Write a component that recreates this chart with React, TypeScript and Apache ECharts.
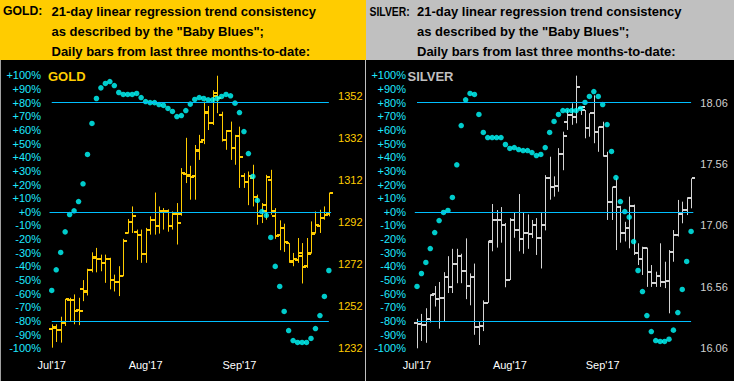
import React, { useEffect, useRef } from "react";
import * as echarts from "echarts";

const monthLabels = ["Jul'17", "Aug'17", "Sep'17"];
const monthStartIdx = [0, 21, 42];
const barCount = 63;
const categories = Array.from({ length: barCount }, (_, i) => "d" + (i + 1));

const pctTicks = { min: -100, max: 100, interval: 10 };
const goldPriceAxis = { min: 1232, max: 1361.7, interval: 20 };
const silverPriceAxis = { min: 16.06, max: 18.283, interval: 0.5 };

const goldOpen = [1241,1241.5,1240.5,1244,1255,1255,1250,1260.3,1259,1269,1275,1274.6,1272.6,1274.5,1264.4,1263.4,1266.2,1287,1292,1287.4,1286,1277,1288.4,1293,1290.3,1297,1297,1290.3,1296,1296,1315,1314,1314,1326,1331,1344,1339,1352,1343,1331,1335,1327,1333,1314,1311,1313,1303.8,1295,1297,1312,1295,1286,1289,1282,1273,1274,1276,1271,1277,1287,1290,1294,1296];
const goldHigh = [1243.4,1243.4,1247,1255.5,1256,1257.6,1256,1264.4,1269.8,1277.6,1279.7,1276.5,1276.5,1275,1267,1271,1284,1293.4,1299.4,1288.4,1288.4,1289.2,1294.7,1306,1299.4,1298.6,1298,1297,1301,1317.6,1332,1318.7,1328.6,1333.4,1349.2,1347.1,1354.6,1361.5,1344.4,1335.7,1339.7,1333.4,1337.3,1315.2,1316,1319.2,1305,1301,1314.4,1316.8,1298.6,1292.8,1291.2,1282,1277.3,1284.4,1282,1284.4,1292.3,1297,1297.8,1299.4,1306];
const goldLow = [1232.3,1235,1234.7,1242.6,1245,1243.4,1243,1254.4,1257.1,1268.1,1268.1,1268.6,1263.1,1260,1259,1256.8,1266.2,1286.5,1286.8,1274,1272.6,1272.6,1286,1286,1286.5,1288.4,1287.4,1288.4,1281.3,1295,1310.5,1302.6,1302.6,1321.5,1329,1335.7,1338.1,1343.7,1330.2,1326.3,1321.5,1319.2,1308.2,1308.2,1300,1299.4,1290.7,1291.5,1293.1,1295.5,1284,1278.6,1277.8,1272.6,1271,1272.6,1262.8,1270.2,1277,1286.5,1286.8,1293.1,1294.7];
const goldClose = [1242,1240.5,1243.8,1255.2,1255,1249.7,1249.7,1258.7,1269,1275.2,1274.6,1272.6,1274.5,1264.4,1263.4,1266.2,1282.8,1291.8,1295,1286,1276.9,1288.4,1293.1,1290.3,1297,1297,1290.3,1296,1291.5,1315.2,1314.1,1313.6,1325.9,1330.2,1344.4,1338.9,1353.4,1350.8,1331,1335.4,1327,1332.9,1323.1,1310.8,1314,1304.1,1294.7,1300.2,1313.6,1297,1285.5,1289.2,1282.4,1273.4,1274.2,1277.3,1270.7,1277.3,1286.5,1290.7,1293.9,1295.5,1306];
const goldTrend = [-57.6,-42.5,-29.8,-14.7,-2,0.7,7.5,20.5,42,64.7,83,90.8,94,95.4,92.5,87.4,86,86,86,86.7,83.7,80.8,80,80,78.6,77.9,75.7,73.5,69.8,70.5,74.2,78.9,82.3,83.7,83,82,82,83,84.5,86,85,79.6,72.7,58.8,42.7,25.9,8.3,0.2,-2.7,-18.8,-40,-54.7,-73,-87,-94.3,-95.7,-95.7,-95.7,-92.8,-85.5,-76,-62,-43];

const silverOpen = [16.27,16.26,16.25,16.30,16.50,16.46,16.47,16.64,16.56,16.744,16.81,16.69,16.57,16.64,16.236,16.24,16.43,16.93,17.105,17.105,17.064,16.616,17.105,17.02,16.95,17.0,16.99,17.06,16.96,17.064,17.445,17.37,17.38,17.64,17.9,17.96,17.946,18.02,18.0,17.85,17.974,17.824,17.86,17.626,17.254,17.37,17.213,17.0,17.04,17.22,16.838,16.785,16.88,16.684,16.594,16.65,16.60,16.61,16.847,16.983,17.15,17.19,17.28];
const silverHigh = [16.30,16.34,16.386,16.50,16.567,16.60,16.68,16.81,16.87,16.87,16.83,16.955,16.67,16.75,16.28,16.45,16.936,17.235,17.186,17.21,17.08,17.12,17.164,17.316,17.17,17.15,17.105,17.12,17.17,17.47,17.62,17.46,17.69,17.824,18.0,18.055,18.28,18.027,18.0,17.974,18.12,17.865,17.905,17.66,17.376,17.444,17.22,17.09,17.295,17.23,16.915,16.887,16.88,16.738,16.684,16.915,16.765,16.86,17.023,17.268,17.254,17.29,17.444];
const silverLow = [16.06,16.12,16.105,16.27,16.40,16.22,16.28,16.51,16.51,16.59,16.59,16.46,16.41,16.17,16.087,16.20,16.43,16.85,16.88,16.92,16.557,16.616,16.96,16.85,16.83,16.87,16.958,16.82,16.71,17.02,17.27,17.295,17.335,17.51,17.838,17.88,17.892,17.96,17.77,17.783,17.73,17.66,17.62,17.105,17.105,16.86,16.92,16.93,16.874,16.82,16.738,16.657,16.56,16.56,16.56,16.56,16.55,16.345,16.765,16.97,17.078,17.145,17.20];
const silverClose = [16.26,16.25,16.30,16.496,16.46,16.47,16.64,16.56,16.744,16.81,16.69,16.57,16.64,16.236,16.24,16.43,16.928,17.105,17.105,17.064,16.616,17.105,17.02,16.95,17.0,16.99,17.06,16.96,17.064,17.445,17.37,17.38,17.64,17.79,17.96,17.946,18.19,18.027,17.85,17.974,17.824,17.86,17.626,17.254,17.37,17.213,17.0,17.04,17.22,16.838,16.785,16.88,16.684,16.594,16.65,16.60,16.61,16.847,16.983,17.15,17.19,17.28,17.444];
const silverTrend = [-54.7,-45.2,-37.1,-26.9,-15.2,-6.4,-0.5,1,10.5,34.4,63.2,82,86.7,86,71.3,58.1,54.4,54.4,54.4,54.4,49.3,46.4,47.1,45.6,44.9,44.9,43.4,41.2,42,47.1,58.1,66.2,71.3,74.2,74.2,74.2,74.2,75.7,80.1,84.5,88.1,84.5,78.6,63.9,44.2,25.1,7.5,0.2,-3.9,-21.8,-43,-58.4,-76,-87.7,-94.3,-95,-95,-93.3,-86.7,-73.8,-56.9,-36.4,-14.4];

const trendBands = [80, 0, -80];

const FONT = 'Arial, "Liberation Sans", sans-serif';
const CYAN_LABEL = "#1EE8FF";
const LINE_BLUE = "#00BFFF";
const DOT = "#00FFFF";
const GOLD = "#FFCC00";
const SILVER = "#D4D4D4";

function pctFmt(v: number) {
  if (v > 0) return "+" + v + "%";
  if (v === 0) return "+0%";
  return v + "%";
}

function ohlcRender(color: string) {
  return (params: any, api: any) => {
    const i = api.value(0);
    const o = api.coord([i, api.value(1)]);
    const h = api.coord([i, api.value(2)]);
    const l = api.coord([i, api.value(3)]);
    const c = api.coord([i, api.value(4)]);
    const x = Math.round(o[0]) + 0.5;
    return {
      type: "group",
      children: [
        { type: "line", shape: { x1: x, y1: h[1], x2: x, y2: l[1] }, style: { stroke: color, lineWidth: 1 } },
        { type: "rect", shape: { x: x - 3.5, y: Math.round(o[1]) - 1, width: 3, height: 2 }, style: { fill: color } },
        { type: "rect", shape: { x: x + 0.5, y: Math.round(c[1]) - 1, width: 3, height: 2 }, style: { fill: color } },
      ],
    };
  };
}

function panel(k: number, opts: any) {
  const grid = { left: opts.left, top: 75.3, width: opts.width, height: 273, containLabel: false };
  const xAxis = {
    type: "category",
    gridIndex: k,
    data: categories,
    boundaryGap: true,
    axisLine: { show: false },
    axisTick: { show: false },
    splitLine: { show: false },
    axisLabel: {
      interval: (idx: number) => monthStartIdx.indexOf(idx) >= 0,
      formatter: (_v: string, idx: number) => {
        const m = monthStartIdx.indexOf(idx);
        return m >= 0 ? monthLabels[m] : "";
      },
      color: "#FFFFFF",
      fontSize: 11,
      fontFamily: FONT,
      margin: 11,
      hideOverlap: false,
    },
  };
  const yPct = {
    type: "value",
    gridIndex: k,
    position: "left",
    min: pctTicks.min,
    max: pctTicks.max,
    interval: pctTicks.interval,
    axisLine: { show: false },
    axisTick: { show: false },
    splitLine: { show: false },
    axisLabel: { formatter: pctFmt, color: CYAN_LABEL, fontSize: 11, fontFamily: FONT, margin: opts.pctMargin },
  };
  const yPrice = {
    type: "value",
    gridIndex: k,
    position: "right",
    min: opts.price.min,
    max: opts.price.max,
    interval: opts.price.interval,
    axisLine: { show: false },
    axisTick: { show: false },
    splitLine: { show: false },
    axisLabel: {
      formatter: (v: number) => v.toFixed(opts.decimals),
      color: opts.priceColor,
      fontSize: 11,
      fontFamily: FONT,
      margin: 7,
      showMaxLabel: false,
    },
  };
  const last = barCount - 1;
  const series = [
    {
      type: "custom",
      xAxisIndex: k,
      yAxisIndex: 2 * k + 1,
      renderItem: ohlcRender(opts.barColor),
      encode: { x: 0, y: [1, 2, 3, 4] },
      data: opts.open.map((o: number, i: number) => [i, o, opts.high[i], opts.low[i], opts.close[i]]),
      clip: false,
      z: 2,
    },
    {
      type: "scatter",
      xAxisIndex: k,
      yAxisIndex: 2 * k,
      data: opts.trend.map((v: number, i: number) => [i, v]),
      symbol: "circle",
      symbolSize: 5.5,
      itemStyle: { color: DOT },
      z: 4,
      markLine: {
        silent: true,
        symbol: ["none", "none"],
        label: { show: false },
        lineStyle: { color: LINE_BLUE, width: 1, type: "solid" },
        data: trendBands.map((b) =>
          b === 0 ? [{ yAxis: b, x: opts.left }, { yAxis: b, x: opts.left + opts.width }] : [{ coord: [0, b] }, { coord: [last, b] }]
        ),
      },
    },
  ];
  return { grid, xAxis, yAxes: [yPct, yPrice], series };
}

export default function App() {
  const ref = useRef<HTMLDivElement>(null);
  useEffect(() => {
    document.body.style.margin = "0";
    if (!ref.current) return;
    const chart = echarts.init(ref.current, undefined, { renderer: "svg" });
    const g = panel(0, {
      left: 49.5, width: 281.6, pctMargin: 8.5, price: goldPriceAxis, decimals: 0, priceColor: GOLD,
      barColor: GOLD, open: goldOpen, high: goldHigh, low: goldLow, close: goldClose, trend: goldTrend,
    });
    const s = panel(1, {
      left: 414.8, width: 278.5, pctMargin: 8.8, price: silverPriceAxis, decimals: 2, priceColor: "#D0D0D0",
      barColor: SILVER, open: silverOpen, high: silverHigh, low: silverLow, close: silverClose, trend: silverTrend,
    });
    const headerText = (x: number, y: number, text: string, scaleX = 1) => ({
      type: "text", x, y, scaleX, silent: true,
      style: { text, font: `bold 13px ${FONT}`, fill: "#000000", verticalAlign: "middle", textAlign: "left" },
    });
    chart.setOption({
      animation: false,
      backgroundColor: "#000000",
      grid: [g.grid, s.grid],
      xAxis: [g.xAxis, s.xAxis],
      yAxis: [...g.yAxes, ...s.yAxes],
      series: [...g.series, ...s.series],
      graphic: [
        { type: "rect", shape: { x: 0, y: 0, width: 366, height: 60 }, style: { fill: "#FFCC00" }, silent: true },
        { type: "rect", shape: { x: 366, y: 0, width: 368, height: 60 }, style: { fill: "#C0C0C0" }, silent: true },
        { type: "line", shape: { x1: 365.5, y1: 60, x2: 365.5, y2: 381 }, style: { stroke: "#C0C0C0", lineWidth: 1 }, silent: true },
        { type: "line", shape: { x1: 0.5, y1: 60, x2: 0.5, y2: 381 }, style: { stroke: "#A0A0A0", lineWidth: 1 }, silent: true },
        headerText(3, 11, "GOLD:", 0.94),
        headerText(51.5, 11, "21-day linear regression trend consistency"),
        headerText(51.5, 31, 'as described by the "Baby Blues";'),
        headerText(51.5, 51, "Daily bars from last three months-to-date:"),
        headerText(369.5, 11, "SILVER:", 0.8),
        headerText(417, 11, "21-day linear regression trend consistency"),
        headerText(417, 31, 'as described by the "Baby Blues";'),
        headerText(417, 51, "Daily bars from last three months-to-date:"),
        { type: "text", x: 48, y: 76, silent: true, style: { text: "GOLD", font: `bold 13px ${FONT}`, fill: GOLD, verticalAlign: "middle" } },
        { type: "text", x: 407.5, y: 76, silent: true, style: { text: "SILVER", font: `bold 13px ${FONT}`, fill: "#C0C0C0", verticalAlign: "middle" } },
      ],
    });
    return () => chart.dispose();
  }, []);
  return <div ref={ref} style={{ width: 734, height: 381 }} />;
}
